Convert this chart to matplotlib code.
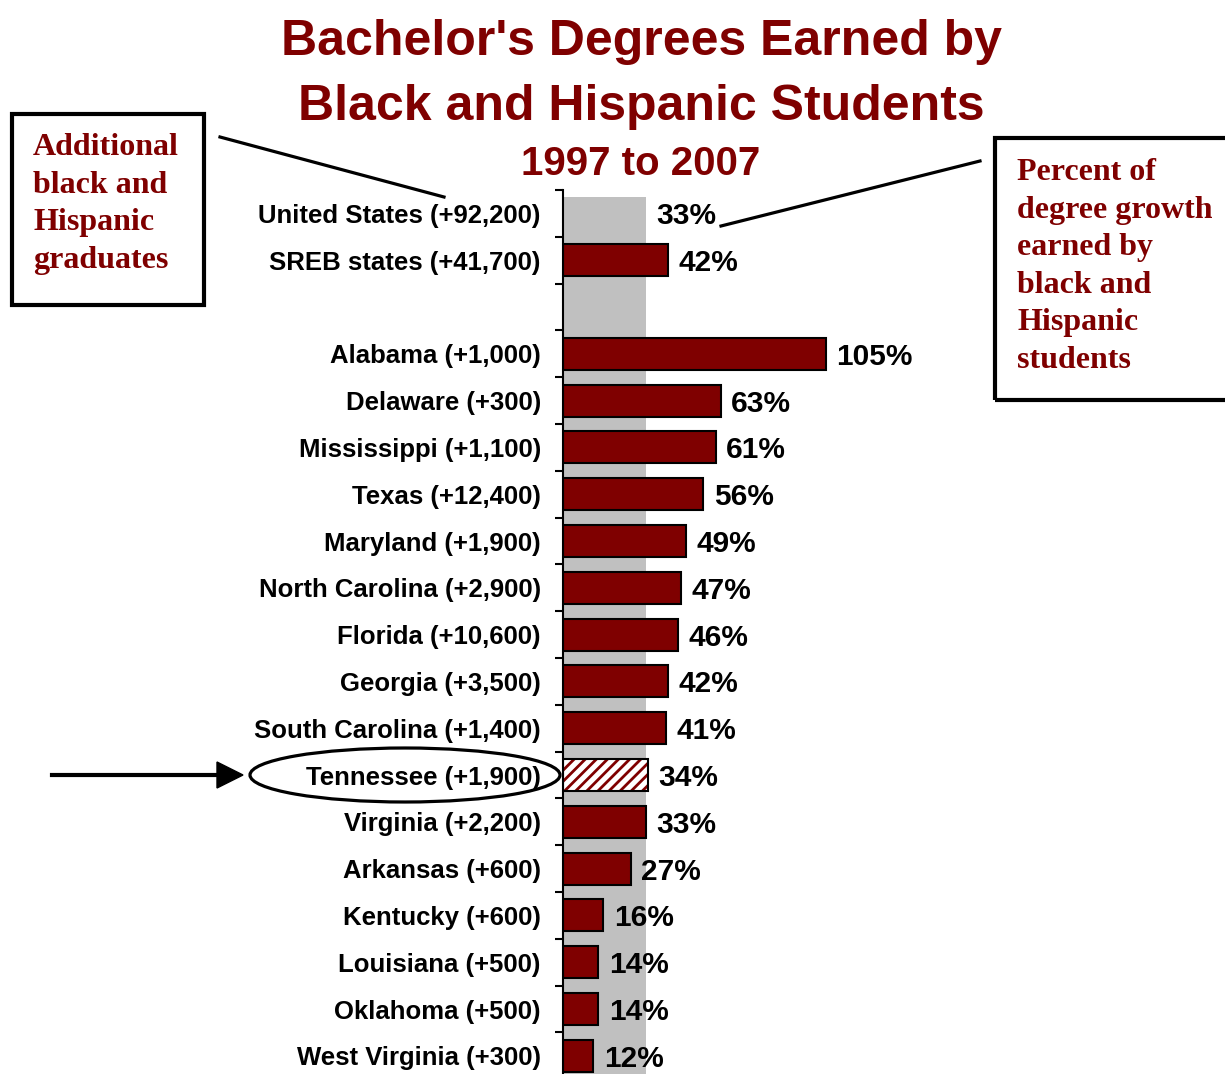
import matplotlib
matplotlib.use("Agg")
import matplotlib.pyplot as plt
from matplotlib import patches
from matplotlib.lines import Line2D

# ---- data ----
regions = ["United States", "SREB states", "",
           "Alabama", "Delaware", "Mississippi", "Texas", "Maryland",
           "North Carolina", "Florida", "Georgia", "South Carolina",
           "Tennessee", "Virginia", "Arkansas", "Kentucky", "Louisiana",
           "Oklahoma", "West Virginia"]
added = ["+92,200", "+41,700", "",
         "+1,000", "+300", "+1,100", "+12,400", "+1,900",
         "+2,900", "+10,600", "+3,500", "+1,400",
         "+1,900", "+2,200", "+600", "+600", "+500",
         "+500", "+300"]
percent = [33, 42, None,
           105, 63, 61, 56, 49,
           47, 46, 42, 41,
           34, 33, 27, 16, 14,
           14, 12]
us_value = 33
highlight = "Tennessee"

W, H = 1225, 1074
RED = "#7f0000"

plt.rcParams["hatch.linewidth"] = 2.0

fig = plt.figure(figsize=(W / 100, H / 100), dpi=100)

def P(x, y):
    return (x / W, 1 - y / H)

# axes: left spine at x=563px, top at 190px, 46.8 px per row
n = len(regions)
row_px = 46.8
top_px = 190
ax_left, ax_w = 563, 400
ax = fig.add_axes([ax_left / W, 1 - (top_px + n * row_px) / H, ax_w / W, n * row_px / H])
ax.set_xlim(0, 160)
ax.set_ylim(n - 0.5, -0.5)
for s in ["top", "right", "bottom"]:
    ax.spines[s].set_visible(False)
ax.spines["left"].set_linewidth(1.5)
ax.set_xticks([])

bar_h = 0.68
# gray US band
ax.add_patch(patches.Rectangle((0, -bar_h / 2), us_value, n, facecolor="#c0c0c0",
                               edgecolor="none", zorder=0))

for i, (r, v) in enumerate(zip(regions, percent)):
    if v is None:
        continue
    if i == 0:
        pass
    elif r == highlight:
        ax.barh(i, v, height=bar_h, color="white", edgecolor=RED, hatch="///",
                linewidth=0, zorder=2)
        ax.barh(i, v, height=bar_h, color="none", edgecolor="black",
                linewidth=1.5, zorder=3)
    else:
        ax.barh(i, v, height=bar_h, color=RED, edgecolor="black",
                linewidth=1.5, zorder=2)
    ax.text(v + 4.3, i, f"{v}%", va="center_baseline", ha="left", fontsize=21.5,
            fontweight="bold", family="Liberation Sans", zorder=4)

labels = [f"{r} ({a})" if r else "" for r, a in zip(regions, added)]
ax.set_yticks(range(n))
ax.set_yticklabels(labels, family="Liberation Sans", fontsize=18.5,
                   fontweight="bold", va="center_baseline")
ax.tick_params(axis="y", which="major", length=0, pad=16)
ax.set_yticks([i - 0.5 for i in range(n + 1)], minor=True)
ax.tick_params(axis="y", which="minor", length=6, width=1.5, direction="out")

# title
tk = dict(ha="center", va="baseline", color=RED, fontweight="bold",
          family="Liberation Sans", transform=fig.transFigure)
fig.text(*P(641, 55), "Bachelor's Degrees Earned by", fontsize=36, **tk)
fig.text(*P(641, 120), "Black and Hispanic Students", fontsize=36, **tk)
fig.text(*P(641, 175), "1997 to 2007", fontsize=29, **tk)

# boxes
def box(x0, y0, x1, y1):
    fig.patches.append(patches.Rectangle(P(x0, y1), (x1 - x0) / W, (y1 - y0) / H,
                                         transform=fig.transFigure, fill=False,
                                         edgecolor="black", linewidth=3))

box(12, 114, 204, 305)
box(995, 138, 1240, 400)

bk = dict(ha="left", va="baseline", color=RED, fontweight="bold",
          family="Liberation Serif", fontsize=23, transform=fig.transFigure)
for k, t in enumerate(["Additional", "black and", "Hispanic", "graduates"]):
    fig.text(*P(33, 155 + k * 37.7), t, **bk)
for k, t in enumerate(["Percent of", "degree growth", "earned by", "black and",
                       "Hispanic", "students"]):
    fig.text(*P(1017, 180 + k * 37.6), t, **bk)

# connector lines
def line(x0, y0, x1, y1, lw=2.3):
    a, b = P(x0, y0), P(x1, y1)
    fig.lines.append(Line2D([a[0], b[0]], [a[1], b[1]], transform=fig.transFigure,
                            color="black", linewidth=lw))

line(220, 137, 444, 197)
line(980, 161, 721, 226)

# arrow pointing to Tennessee
line(52, 775, 220, 775, lw=3)
fig.patches.append(patches.Polygon([P(217, 762), P(243, 775), P(217, 788)],
                                   closed=True, transform=fig.transFigure,
                                   facecolor="black", edgecolor="black"))
# ellipse around Tennessee label
fig.patches.append(patches.Ellipse(P(405, 775), 310 / W, 54 / H,
                                   transform=fig.transFigure, fill=False,
                                   edgecolor="black", linewidth=2.3))

fig.savefig("out.png", dpi=100)
